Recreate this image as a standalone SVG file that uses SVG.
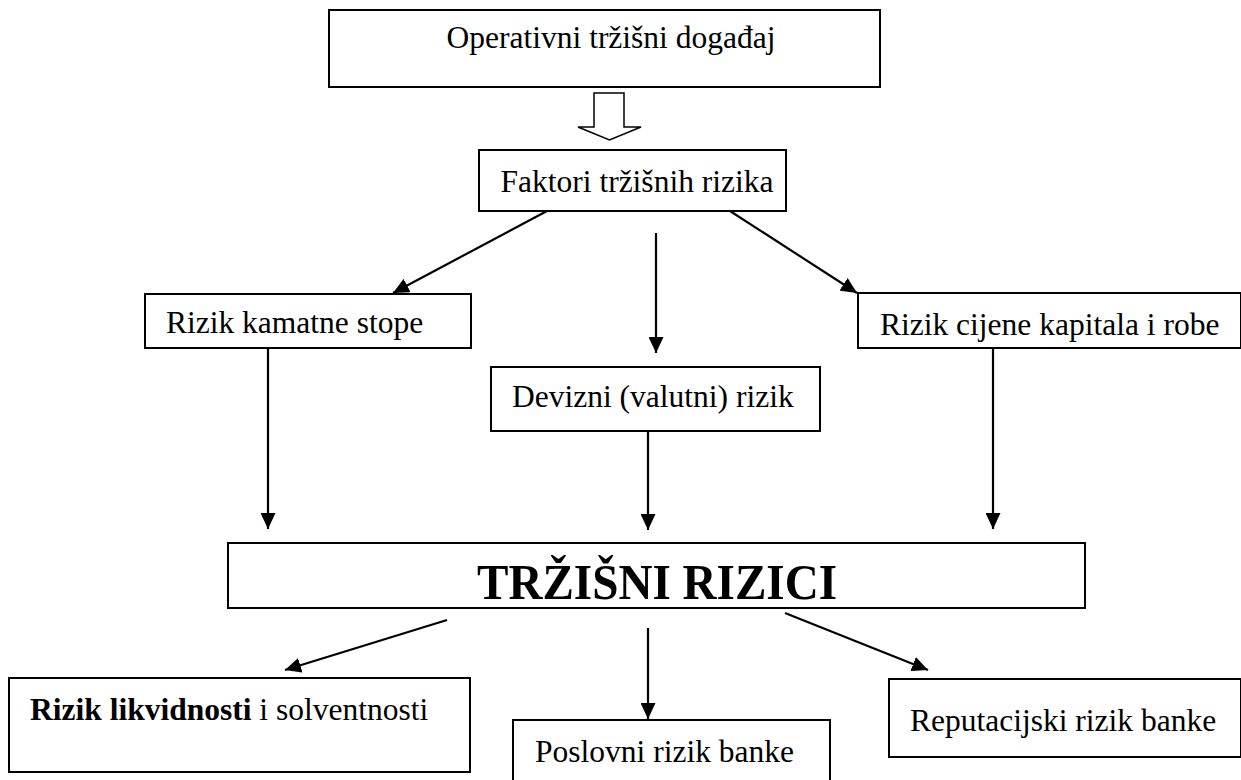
<svg xmlns="http://www.w3.org/2000/svg" width="1241" height="780" viewBox="0 0 1241 780">
<style>
.box{fill:#fff;stroke:#000;stroke-width:2}
text{font-family:Liberation Serif, Times New Roman, serif;font-size:31.5px;fill:#000}
.c{stroke:#000;stroke-width:2.2;fill:none}
</style>
<defs>
<marker id="ah" markerUnits="userSpaceOnUse" markerWidth="17" markerHeight="15" refX="16" refY="7.5" orient="auto">
<path d="M0,0 L16,7.5 L0,15 z" fill="#000"/>
</marker>
</defs>
<rect width="1241" height="780" fill="#fff"/>
<g id="n-operativni">
<rect class="box" x="329" y="10" width="551" height="77"/>
<text x="611" y="48" text-anchor="middle">Operativni tržišni događaj</text>
</g>
<g id="n-faktori">
<rect class="box" x="479" y="150" width="307" height="61"/>
<text x="637" y="192" text-anchor="middle">Faktori tržišnih rizika</text>
</g>
<g id="n-kamatne">
<rect class="box" x="145" y="294" width="326" height="54"/>
<text x="166" y="333">Rizik kamatne stope</text>
</g>
<g id="n-cijene">
<rect class="box" x="858" y="293" width="383" height="55"/>
<text x="880" y="335">Rizik cijene kapitala i robe</text>
</g>
<g id="n-devizni">
<rect class="box" x="491" y="367" width="329" height="64"/>
<text x="512" y="407">Devizni (valutni) rizik</text>
</g>
<g id="n-trzisni">
<rect class="box" x="228" y="543" width="857" height="65"/>
<text x="657" y="599" text-anchor="middle" font-weight="bold" style="font-size:51px" textLength="360" lengthAdjust="spacingAndGlyphs">TRŽIŠNI RIZICI</text>
</g>
<g id="n-likvidnost">
<rect class="box" x="9" y="678" width="461" height="94"/>
<text x="30" y="720"><tspan font-weight="bold">Rizik likvidnosti</tspan> i solventnosti</text>
</g>
<g id="n-poslovni">
<rect class="box" x="513" y="720" width="317" height="70"/>
<text x="535" y="762">Poslovni rizik banke</text>
</g>
<g id="n-reputacijski">
<rect class="box" x="889" y="679" width="352" height="78"/>
<text x="910" y="731">Reputacijski rizik banke</text>
</g>
<g id="connectors">
<path d="M594,93 L624,93 L624,127 L641,127 L609.5,140 L578,127 L594,127 Z" fill="#fff" stroke="#000" stroke-width="1.5"/>
<line class="c" x1="547" y1="211" x2="393" y2="293" marker-end="url(#ah)"/>
<line class="c" x1="656" y1="233" x2="656" y2="353" marker-end="url(#ah)"/>
<line class="c" x1="730" y1="211" x2="857" y2="293" marker-end="url(#ah)"/>
<line class="c" x1="268" y1="348" x2="268" y2="529" marker-end="url(#ah)"/>
<line class="c" x1="648" y1="431" x2="648" y2="530" marker-end="url(#ah)"/>
<line class="c" x1="993" y1="348" x2="993" y2="529" marker-end="url(#ah)"/>
<line class="c" x1="447" y1="620" x2="285" y2="670" marker-end="url(#ah)"/>
<line class="c" x1="648" y1="628" x2="648" y2="719" marker-end="url(#ah)"/>
<line class="c" x1="785" y1="613" x2="928" y2="670" marker-end="url(#ah)"/>
</g>
</svg>
